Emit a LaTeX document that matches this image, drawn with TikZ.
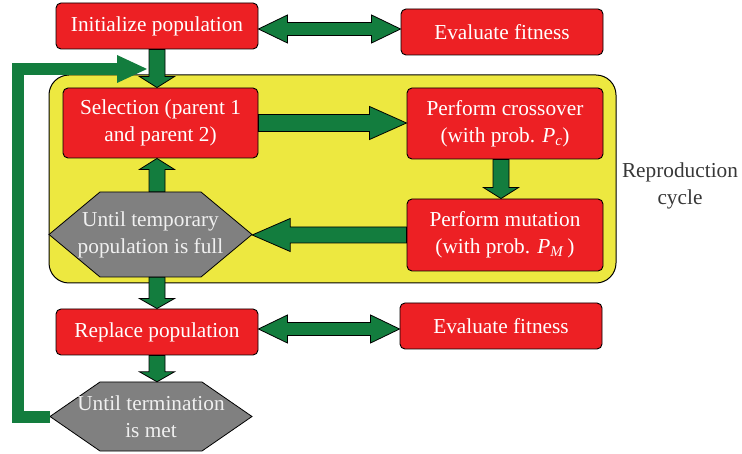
\documentclass[tikz,border=0pt]{standalone}
\usepackage{fontspec}
\setmainfont{Liberation Serif}
\usetikzlibrary{calc}

\definecolor{boxred}{RGB}{237,32,36}
\definecolor{cycyellow}{RGB}{237,232,64}
\definecolor{arrgreen}{RGB}{19,125,62}
\definecolor{hexgray}{RGB}{128,128,128}
\definecolor{notegray}{RGB}{55,55,55}

% Outlined block arrow: tail, tip, shaft half-width, head half-width, head length
\newcommand\blockarrow[5]{%
  \coordinate (ba-h) at ($(#2)!#5!(#1)$);
  \filldraw[barrow] ($(#1)!#3!90:(#2)$) -- ($(ba-h)!#3!90:(#2)$)
    -- ($(ba-h)!#4!90:(#2)$) -- (#2) -- ($(ba-h)!#4!-90:(#2)$)
    -- ($(ba-h)!#3!-90:(#2)$) -- ($(#1)!#3!-90:(#2)$) -- cycle;}

% Outlined two-headed block arrow: tip A, tip B, shaft half-width, head half-width, head length
\newcommand\dblarrow[5]{%
  \coordinate (da-a) at ($(#1)!#5!(#2)$);
  \coordinate (da-b) at ($(#2)!#5!(#1)$);
  \filldraw[barrow] (#1) -- ($(da-a)!#4!90:(#2)$) -- ($(da-a)!#3!90:(#2)$)
    -- ($(da-b)!#3!-90:(#1)$) -- ($(da-b)!#4!-90:(#1)$) -- (#2)
    -- ($(da-b)!#4!90:(#1)$) -- ($(da-b)!#3!90:(#1)$)
    -- ($(da-a)!#3!-90:(#2)$) -- ($(da-a)!#4!-90:(#2)$) -- cycle;}

% Hexagon outline: centre, half width, half height, chamfer width
\newcommand\hexagonat[4]{%
  \filldraw[hexshape] ($(#1)+(-#2,0)$) -- ($(#1)+(-#2+#4,-#3)$)
    -- ($(#1)+(#2-#4,-#3)$) -- ($(#1)+(#2,0)$) -- ($(#1)+(#2-#4,#3)$)
    -- ($(#1)+(-#2+#4,#3)$) -- cycle;}

\begin{document}
\begin{tikzpicture}[x=1pt,y=-1pt,
  txt/.style={font=\fontsize{21.3}{27}\selectfont, align=center, inner sep=0pt},
  redbox/.style={txt, draw=black, line width=0.9pt, fill=boxred, text=white,
    rounded corners=5pt},
  hexshape/.style={draw=black, line width=0.8pt, fill=hexgray},
  hextext/.style={txt, text=white!94!black},
  cycleframe/.style={draw=black, line width=1pt, fill=cycyellow, rounded corners=20pt},
  barrow/.style={draw=black, line width=0.8pt, fill=arrgreen, line join=miter},
  feedback/.style={draw=arrgreen, line width=12pt, line join=miter},
  note/.style={txt, text=notegray}]

\useasboundingbox (0,0) rectangle (742,454);

% reproduction cycle frame and its caption
\node[cycleframe, minimum width=567pt, minimum height=208pt] (cyc) at (332.5,179) {};
\node[note] (cyclbl) at (680,186) {Reproduction\\cycle};

% process boxes
\node[redbox, minimum width=202pt, minimum height=46pt] (init) at (157,26) {Initialize population};
\node[redbox, minimum width=202pt, minimum height=46pt] (eval1) at (502,32) {Evaluate fitness};
\node[redbox, minimum width=195pt, minimum height=70pt] (sel) at (160.5,123) {Selection (parent 1\\and parent 2)};
\node[redbox, minimum width=196pt, minimum height=71pt] (cross) at (505,123.5)
  {Perform crossover\\(with prob. \textit{P}\textsubscript{\textit{c}})};
\node[redbox, minimum width=196pt, minimum height=72pt] (mut) at (505,235)
  {Perform mutation\\(with prob. \textit{P}\textsubscript{\textit{M}}\,)};
\node[redbox, minimum width=202pt, minimum height=46pt] (repl) at (157,332) {Replace population};
\node[redbox, minimum width=202pt, minimum height=46pt] (eval2) at (501,326) {Evaluate fitness};

% decision hexagons
\coordinate (tempc) at (150.5,234.5);
\hexagonat{tempc}{101.5}{42.5}{51}
\node[hextext, minimum width=203pt, minimum height=85pt] (temp) at (tempc) {Until temporary\\population is full};
\coordinate (termc) at (151,416.5);
\hexagonat{termc}{101}{34.5}{50}
\node[hextext, minimum width=202pt, minimum height=69pt] (term) at (termc) {Until termination\\is met};

% loop back from the termination test
\coordinate (fbtip) at (147,69);
\coordinate (fbrail) at (18,0);
\draw[feedback] (term.west) -- (fbrail |- term.west) -- (fbrail |- fbtip) -- ([xshift=-30pt]fbtip);
\fill[arrgreen] (fbtip) -- ++(-30,-14) -- ++(0,28) -- cycle;

% flow arrows
\coordinate (m1) at ($(init.east)!.5!(eval1.west)$);
\coordinate (t1a) at (init.east |- m1);
\coordinate (t1b) at (eval1.west |- m1);
\dblarrow{t1a}{t1b}{6.5pt}{14pt}{29pt}

\coordinate (i0) at (init.south);
\coordinate (i1) at (init.south |- sel.north);
\blockarrow{i0}{i1}{8pt}{17.5pt}{11pt}

\coordinate (s0) at (sel.east);
\coordinate (s1) at (sel.east -| cross.west);
\blockarrow{s0}{s1}{8.5pt}{16.5pt}{37pt}

\coordinate (c0) at ([xshift=-4pt]cross.south);
\coordinate (c1) at (c0 |- mut.north);
\blockarrow{c0}{c1}{8pt}{17.5pt}{11pt}

\coordinate (u0) at (mut.west);
\coordinate (u1) at (mut.west -| temp.east);
\blockarrow{u0}{u1}{8pt}{16.5pt}{38pt}

\coordinate (p0) at (init.south |- temp.north);
\coordinate (p1) at (init.south |- sel.south);
\blockarrow{p0}{p1}{8pt}{17.5pt}{11pt}

\coordinate (d0) at (repl.north |- temp.south);
\coordinate (d1) at (repl.north);
\blockarrow{d0}{d1}{8pt}{17.5pt}{10pt}

\coordinate (m2) at ($(repl.east)!.5!(eval2.west)$);
\coordinate (t2a) at (repl.east |- m2);
\coordinate (t2b) at (eval2.west |- m2);
\dblarrow{t2a}{t2b}{6.5pt}{14pt}{29pt}

\coordinate (r0) at (repl.south);
\coordinate (r1) at (repl.south |- term.north);
\blockarrow{r0}{r1}{8pt}{17.5pt}{10pt}

\end{tikzpicture}
\end{document}
